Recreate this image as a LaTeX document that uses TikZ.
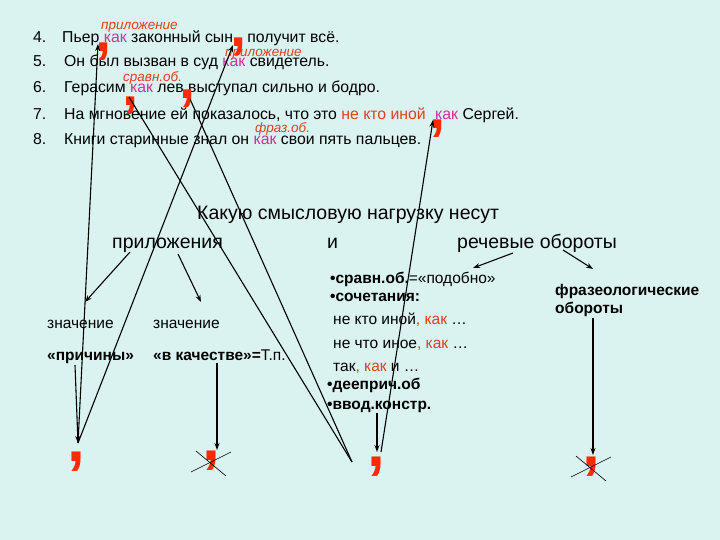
\documentclass[tikz,border=0pt]{standalone}
\usepackage{fontspec}
\setmainfont{Liberation Sans}
\usetikzlibrary{arrows.meta}
\definecolor{bg}{RGB}{218,243,240}
\definecolor{kakc}{RGB}{204,51,153}
\definecolor{lblc}{RGB}{222,64,32}
\definecolor{cmc}{RGB}{255,42,0}
\newcommand{\kk}[1]{{\color{kakc}#1}}
\newcommand{\rr}[1]{{\color{lblc}#1}}
\begin{document}
\begin{tikzpicture}[x=1pt,y=-1pt,
 sent/.style={anchor=base west, inner sep=0pt, font=\fontsize{15.8}{18}\selectfont},
 num/.style={anchor=base west, inner sep=0pt, font=\fontsize{15.8}{18}\selectfont},
 lab/.style={anchor=base west, inner sep=0pt, font=\fontsize{13.5}{15}\selectfont\itshape, text=lblc},
 head/.style={anchor=base west, inner sep=0pt, font=\fontsize{19.5}{22}\selectfont},
 body/.style={anchor=base west, inner sep=0pt, font=\fontsize{15.5}{18}\selectfont},
 bigc/.style={anchor=base, inner sep=0pt, text=cmc, font=\fontsize{58}{58}\selectfont\bfseries},
 botc/.style={anchor=base, inner sep=0pt, text=cmc, font=\fontsize{64}{64}\selectfont\bfseries},
 ln/.style={line width=1.1pt},
 tip/.style={ln, -{Stealth[length=7pt,width=5pt]}},
 thin/.style={line width=0.6pt}
]
\fill[bg] (0,0) rectangle (720,540);
\useasboundingbox (0,0) rectangle (720,540);

% sentences
\node[num] (n4) at (33,43) {4.};
\node[num] (n5) at (33,67) {5.};
\node[num] (n6) at (33,93) {6.};
\node[num] (n7) at (33,120) {7.};
\node[num] (n8) at (33,145) {8.};
\node[sent] (s4) at (62,43) {Пьер \kk{как} законный сын\hspace{10pt} получит всё.};
\node[sent] (s5) at (64,67) {Он был вызван в суд \kk{как} свидетель.};
\node[sent] (s6) at (64,93) {Герасим \kk{как} лев выступал сильно и бодро.};
\node[sent] (s7) at (64,120) {На мгновение ей показалось, что это \rr{не кто иной}\hspace{5pt} \kk{как} Сергей.};
\node[sent] (s8) at (64,145) {Книги старинные знал он \kk{как} свои пять пальцев.};
% labels
\node[lab] (l4) at (101,30) {приложение};
\node[lab] (l5) at (225,57) {приложение};
\node[lab] (l6) at (123,82) {сравн.об.};
\node[lab] (l8) at (255,133) {фраз.об.};
% big commas in sentences
\node[bigc] (c1) at (104,52) {,};
\node[bigc] (c2) at (239,47) {,};
\node[bigc] (c3) at (131,106) {,};
\node[bigc] (c4) at (188,99) {,};
\node[bigc] (c5) at (438,129) {,};

% heading
\node[head] (q) at (197,219) {Какую смысловую нагрузку несут};
\node[head] (pril) at (112,248) {приложения};
\node[head] (i) at (327,248) {и};
\node[head] (rech) at (457,248) {речевые обороты};

% left meanings
\node[body] (z1) at (47,328) {значение};
\node[body] (z2) at (153,328) {значение};
\node[body] (p1) at (47,360) {\bfseries «причины»};
\node[body] (p2) at (153,360) {\bfseries «в качестве»=\mdseries Т.п.};

% right list
\node[body] (r1) at (330,283) {\bfseries •сравн.об.\mdseries=«подобно»};
\node[body] (r2) at (330,301) {\bfseries •сочетания:};
\node[body] (r3) at (333,324) {не кто иной\rr{, как} …};
\node[body] (r4) at (333,348) {не что иное\rr{, как} …};
\node[body] (r5) at (333,371) {так\rr{, как} и …};
\node[body] (r6) at (327,389) {\bfseries •дееприч.об};
\node[body] (r7) at (327,409) {\bfseries •ввод.констр.};
\node[body] (f1) at (555,295) {\bfseries фразеологические};
\node[body] (f2) at (555,313) {\bfseries обороты};

% bottom commas
\node[botc] (b1) at (76,461) {,};
\node[botc] (b2) at (211,460) {,};
\node[botc] (b3) at (376,466) {,};
\node[botc] (b4) at (591,466) {,};

% connector end points
\coordinate (tA) at (98,44);
\coordinate (tE) at (233,45);
\coordinate (tF) at (433,120);
\coordinate (tC) at (129,97);
\coordinate (tD) at (190,99);
\coordinate (bL) at (78,443);
\coordinate (bM) at (352,462);
\coordinate (bF) at (381,452);
\coordinate (pa) at (75,365);
\coordinate (va) at (377,413);
\coordinate (vb) at (377,452);
\coordinate (ka) at (217,363);
\coordinate (kb) at (217,450);
\coordinate (oa) at (593,318);
\coordinate (ob) at (593,455);
\coordinate (pr1) at (130,252);
\coordinate (pr2) at (178,254);
\coordinate (zz1) at (85,302);
\coordinate (zz2) at (201,302);
\coordinate (re1) at (513,253);
\coordinate (re2) at (563,250);
\coordinate (so) at (473,268);
\coordinate (fr) at (593,269);

% long connectors
\draw[tip] (bL) -- (tA);
\draw[tip] (bL) -- (tE);
\draw[tip] (pa) -- (bL);
\draw[ln] (tC) -- (bM);
\draw[ln] (tD) -- (bM);
\draw[tip] (bF) -- (tF);
\draw[tip] (va) -- (vb);
\draw[tip] (ka) -- (kb);
\draw[tip] (oa) -- (ob);
\draw[tip] (pr1) -- (zz1);
\draw[tip] (pr2) -- (zz2);
\draw[tip] (re1) -- (so);
\draw[tip] (re2) -- (fr);

% crosses
\draw[thin] (191,472) -- (231,452);
\draw[thin] (196,451) -- (226,476);
\draw[thin] (571,477) -- (611,457);
\draw[thin] (576,456) -- (606,481);
\end{tikzpicture}
\end{document}
